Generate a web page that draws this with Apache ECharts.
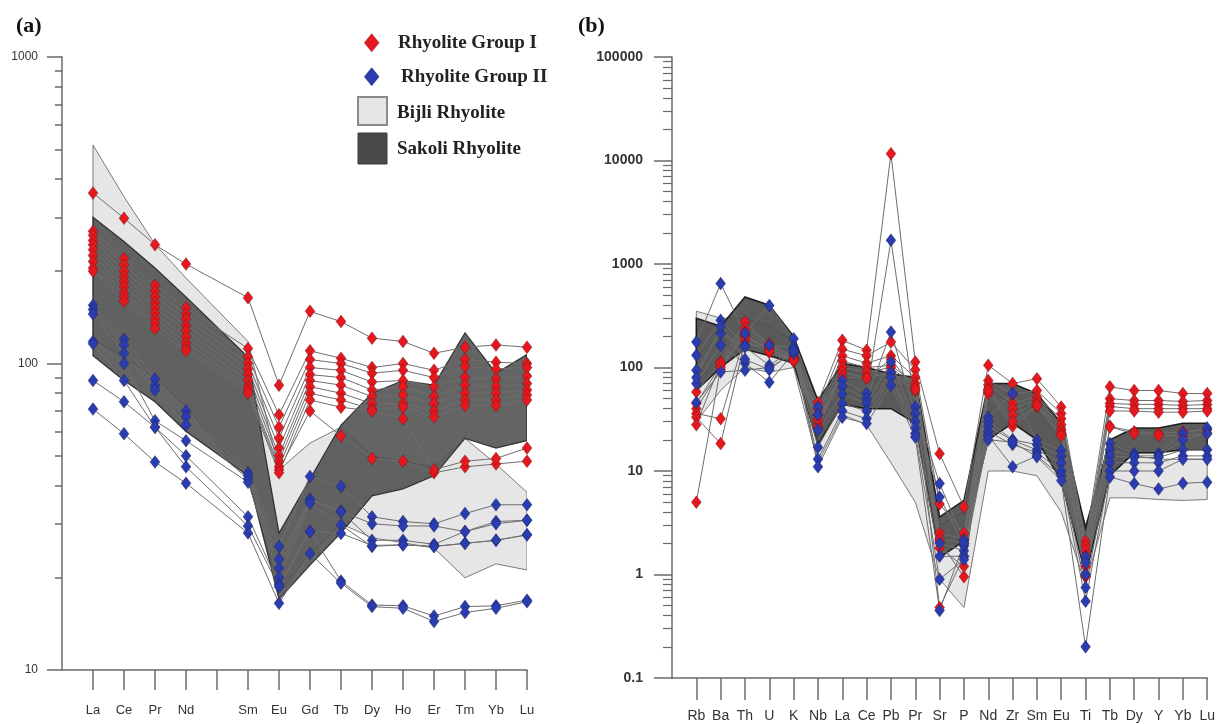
<!DOCTYPE html>
<html><head><meta charset="utf-8">
<script src="https://cdn.jsdelivr.net/npm/echarts@6/dist/echarts.min.js"></script>
<style>html,body{margin:0;padding:0;background:#fff}#c{width:1218px;height:724px}</style>
</head><body><div id="c"></div>
<script>
// ---------- Panel (a): chondrite-normalised REE ----------
const reeElements = ['La','Ce','Pr','Nd','Pm','Sm','Eu','Gd','Tb','Dy','Ho','Er','Tm','Yb','Lu'];
const reeShown = [0,1,2,3,5,6,7,8,9,10,11,12,13,14];
const reeTicks = [10, 100, 1000];
const reeMinorTicks = [20,30,40,50,60,70,80,90,200,300,400,500,600,700,800,900];

const reeGroupI = [
 [360,298,244,211,null,164,85,148,137,121,118,108,113,115,113],
 [270,220,180,152,null,112,68,110,104,97,100,95,103,101,100],
 [262,210,172,145,null,105,62,103,100,93,95,90,98,96,97],
 [252,200,165,140,null,100,57,97,95,87,88,84,90,89,91],
 [244,192,158,133,null,96,53,92,90,82,84,78,85,84,86],
 [235,185,152,128,null,92,50,88,85,78,79,74,80,80,82],
 [225,178,146,122,null,88,48,84,80,74,74,70,76,76,79],
 [215,170,140,117,null,84,46,80,76,71,72,67,73,73,76],
 [205,165,135,113,null,82,45,70,58,49,48,44,46,47,48],
 [200,160,130,110,null,80,44,76,72,70,66,45,48,49,53]
];
const reeGroupII = [
 [155,120,89,70,null,44,25.3,42.8,39.7,31.6,30.5,30,32.4,34.6,34.6],
 [150,115,85,67,null,43,23,36,33,30,29.5,29.5,28.3,30.5,30.8],
 [145,108,82,63,null,42,21.5,35.9,32.8,26.5,26.5,25.7,28.3,30,30.8],
 [118,100,65,56,null,41,20,35,29.7,25.3,25.6,25.3,25.9,26.5,27.6],
 [116,88,62,50,null,31.6,19,28.3,27.9,25.5,25.6,25.3,25.9,26.5,27.6],
 [88,75,62,46,null,29.5,18.7,28.3,19.5,16.3,16.2,15,16.1,16.2,16.9],
 [71,59,47.7,40.7,null,28,16.5,24,19.2,16.1,15.9,14.4,15.4,15.9,16.7]
];
const reeSakoliLower = [106,88,75,60,null,43,17,22,28,37,39,43,57,53,56];
const reeSakoliUpper = [300,250,205,165,null,105,28,42,63,80,88,85,126,93,107];
const reeBijliLower  = [120,105,90,72,null,42,18,24,30,27,26,25,20,22.2,21.2];
const reeBijliUpper  = [516,350,245,190,null,118,45,55,62,50,48,46,57,47,38];

// ---------- Panel (b): primitive-mantle-normalised multi-element ----------
const spiderElements = ['Rb','Ba','Th','U','K','Nb','La','Ce','Pb','Pr','Sr','P','Nd','Zr','Sm','Eu','Ti','Tb','Dy','Y','Yb','Lu'];
const spiderTicks = [0.1, 1, 10, 100, 1000, 10000, 100000];
const spiderMinorTicks = [];
[0.1,1,10,100,1000,10000].forEach(d => { for (let k = 2; k <= 9; k++) spiderMinorTicks.push(+(d*k).toPrecision(3)); });

const spiderGroupI = [
 [58,113,275,164,130,46,183,147,11650,113,14.7,4.5,105,70,78,41.5,2.1,65,60,60,56,56],
 [45,105,240,170,125,40,150,130,176,95,4.8,2.5,75,55,60,36,1.9,50,48,48,47,48],
 [40,95,220,160,120,35,130,110,130,80,2.5,2.2,68,45,52,32,1.7,45,44,44,43,44],
 [36,32,200,150,118,30,115,100,105,70,2.1,0.95,62,40,48,28,1.5,42,40,40,40,40],
 [33,18.4,180,140,115,27,100,90,100,65,2.2,2.0,58,35,45,25,1.2,38,38,37,37,38],
 [28,110,190,155,122,26.6,90,80,90,60,0.48,1.5,56,27,42,23,0.95,27,24,23,24,25],
 [5,100,210,145,118,32,81,79,120,62,1.8,1.2,60,30,43,22,1.0,26.6,23,22,22,23]
];
const spiderGroupII = [
 [176,647,214,398,190,41.5,75,56,1694,41.5,7.56,2.14,33,56,19.8,15.8,1.48,18.4,14.7,14.7,23.2,26],
 [131,286,164,164,158,35,65,50,220,36,5.6,1.9,30,20,18,14,1.3,16,14,14,20,23],
 [94,214,158,105,150,25,55,45,113,30,2.0,1.7,27,19.8,16,12,1.0,14,13.5,13.5,16,16],
 [70,164,110,72,140,17,45,38,90,26,1.5,1.5,24,18,15,10,0.75,12,12,12,14,14],
 [46,90.6,94,100,137,13,38,32,80,23,0.9,1.4,22,11,14,9,0.55,10,10,10,13,13],
 [80,250,120,95,145,11,33,28.7,67,21.3,0.45,2.0,20,19,13.7,8.1,0.2,8.75,7.56,6.7,7.6,7.8]
];
const spiderSakoliLower = [60,100,150,130,110,18,44,40,40,29,1.46,2.1,20,29,20,8,1.0,9,15,15,16,16];
const spiderSakoliUpper = [300,250,480,400,200,48,110,100,87,80,3.6,5.2,70,70,56,29,2.8,20,26,26,29,29];
const spiderBijliLower  = [30,60,100,90,100,12,35,28,12,5,0.9,0.48,10,10,9,4,0.8,5.5,5.5,5.3,5.2,5.3];
const spiderBijliUpper  = [350,300,300,250,180,45,100,80,70,60,3,4,60,45,40,18,3,18,14,13,13,13];

// ---------- styles ----------
const RED = '#e3191f', BLUE = '#2b3cae';
const AXC = '#6a6a6a';
const FONT = '"Liberation Sans Narrow","Liberation Sans",Arial,sans-serif';

function toPairs(vals){ const out=[]; vals.forEach((v,i)=>{ if(v!=null) out.push([i,v]); }); return out; }

function sampleSeries(vals, color, xi, yi){
  return {type:'line', xAxisIndex:xi, yAxisIndex:yi, data:toPairs(vals), z:4,
    symbol:'diamond', symbolSize:[10,13], showSymbol:true, silent:true, animation:false,
    lineStyle:{color:'#6e6e6e', width:1},
    itemStyle:{color:color, borderColor:'rgba(0,0,0,0.35)', borderWidth:0.6}};
}
function bandSeries(lower, upper, xi, yi, fill, stroke, lw, opacity, z){
  return {type:'custom', xAxisIndex:xi, yAxisIndex:yi, z:z, silent:true, animation:false,
    data:[[0, upper[0]]], clip:true,
    renderItem:function(params, api){
      const top=[], bot=[];
      upper.forEach((v,i)=>{ if(v!=null) top.push(api.coord([i,v])); });
      lower.forEach((v,i)=>{ if(v!=null) bot.push(api.coord([i,v])); });
      return {type:'polygon', shape:{points: top.concat(bot.reverse())},
        style:{fill:fill, stroke:stroke, lineWidth:lw, opacity:opacity}};
    }};
}
function fmtNum(v){ return v < 1 ? String(+v.toFixed(1)) : String(Math.round(v)); }

const series = [];
series.push(bandSeries(reeBijliLower, reeBijliUpper, 0, 0, '#e6e6e6', '#7a7a7a', 1, 1, 1));
series.push(bandSeries(reeSakoliLower, reeSakoliUpper, 0, 0, '#4e4e4e', '#222', 1.2, 0.88, 2));
reeGroupII.forEach(s => series.push(sampleSeries(s, BLUE, 0, 0)));
reeGroupI.forEach(s => series.push(sampleSeries(s, RED, 0, 0)));
series.push(bandSeries(spiderBijliLower, spiderBijliUpper, 1, 2, '#e6e6e6', '#7a7a7a', 1, 1, 1));
series.push(bandSeries(spiderSakoliLower, spiderSakoliUpper, 1, 2, '#4a4a4a', '#111', 1.5, 0.9, 2));
spiderGroupI.forEach(s => series.push(sampleSeries(s, RED, 1, 2)));
spiderGroupII.forEach(s => series.push(sampleSeries(s, BLUE, 1, 2)));

const axLine = {show:true, onZero:false, lineStyle:{color:AXC, width:1.5}};
const option = {
  animation:false,
  backgroundColor:'#ffffff',
  grid:[
    {left:62, top:57, width:465, height:613},
    {left:672, top:57, width:539, height:621}
  ],
  xAxis:[
    {type:'value', gridIndex:0, min:-1, max:14, interval:1, axisLine:axLine,
     axisTick:{show:true, length:20, customValues:reeElements.map((e,i)=>i), lineStyle:{color:AXC, width:1.5}},
     axisLabel:{customValues:reeShown, formatter:v=>reeElements[v], margin:34, fontSize:13, color:'#333', fontFamily:FONT},
     splitLine:{show:false}},
    {type:'value', gridIndex:1, min:-1, max:21, interval:1, axisLine:axLine,
     axisTick:{show:true, length:22, customValues:spiderElements.map((e,i)=>i), lineStyle:{color:AXC, width:1.5}},
     axisLabel:{customValues:spiderElements.map((e,i)=>i), formatter:v=>spiderElements[v], margin:31, fontSize:14, color:'#333', fontFamily:FONT},
     splitLine:{show:false}}
  ],
  yAxis:[
    {type:'log', gridIndex:0, min:10, max:1000, logBase:10, position:'left', axisLine:axLine,
     axisTick:{show:true, length:15, customValues:reeTicks, lineStyle:{color:AXC, width:1.5}},
     axisLabel:{customValues:reeTicks, formatter:fmtNum, margin:24, fontSize:12, color:'#333', fontFamily:FONT},
     splitLine:{show:false}},
    {type:'log', gridIndex:0, min:10, max:1000, logBase:10, position:'left', offset:0,
     axisLine:{show:false, onZero:false},
     axisTick:{show:true, length:7, customValues:reeMinorTicks, lineStyle:{color:AXC, width:1.5}},
     axisLabel:{show:false}, splitLine:{show:false}},
    {type:'log', gridIndex:1, min:0.1, max:100000, logBase:10, position:'left', axisLine:axLine,
     axisTick:{show:true, length:18, customValues:spiderTicks, lineStyle:{color:AXC, width:1.5}},
     axisLabel:{customValues:spiderTicks, formatter:fmtNum, margin:29, fontSize:14, fontWeight:'bold', color:'#333', fontFamily:'"Liberation Sans",Arial,sans-serif'},
     splitLine:{show:false}},
    {type:'log', gridIndex:1, min:0.1, max:100000, logBase:10, position:'left', offset:0,
     axisLine:{show:false, onZero:false},
     axisTick:{show:true, length:9, customValues:spiderMinorTicks, lineStyle:{color:AXC, width:1.2}},
     axisLabel:{show:false}, splitLine:{show:false}}
  ],
  graphic:[
    {type:'text', x:16, y:26, style:{text:'(a)', font:'bold 22px "Liberation Serif",serif', fill:'#111', verticalAlign:'middle'}},
    {type:'text', x:578, y:26, style:{text:'(b)', font:'bold 22px "Liberation Serif",serif', fill:'#111', verticalAlign:'middle'}},
    {type:'polygon', shape:{points:[[371.7,33.5],[379.2,42.7],[371.7,51.9],[364.2,42.7]]}, style:{fill:RED, stroke:'rgba(0,0,0,0.3)', lineWidth:0.6}},
    {type:'text', x:398, y:43, style:{text:'Rhyolite Group I', font:'bold 19px "Liberation Serif",serif', fill:'#222', verticalAlign:'middle'}},
    {type:'polygon', shape:{points:[[371.7,67.5],[379.2,76.7],[371.7,85.9],[364.2,76.7]]}, style:{fill:BLUE, stroke:'rgba(0,0,0,0.3)', lineWidth:0.6}},
    {type:'text', x:401, y:77, style:{text:'Rhyolite Group II', font:'bold 19px "Liberation Serif",serif', fill:'#222', verticalAlign:'middle'}},
    {type:'rect', shape:{x:358, y:97, width:29, height:28}, style:{fill:'#e6e6e6', stroke:'#8a8a8a', lineWidth:2}},
    {type:'text', x:397, y:113, style:{text:'Bijli Rhyolite', font:'bold 19px "Liberation Serif",serif', fill:'#222', verticalAlign:'middle'}},
    {type:'rect', shape:{x:358, y:133, width:29, height:31}, style:{fill:'#4a4a4a', stroke:'#3a3a3a', lineWidth:1}},
    {type:'text', x:397, y:149, style:{text:'Sakoli Rhyolite', font:'bold 19px "Liberation Serif",serif', fill:'#222', verticalAlign:'middle'}}
  ],
  series:series
};
const chart = echarts.init(document.getElementById('c'), null, {renderer:'canvas'});
chart.setOption(option);
</script>
</body></html>
